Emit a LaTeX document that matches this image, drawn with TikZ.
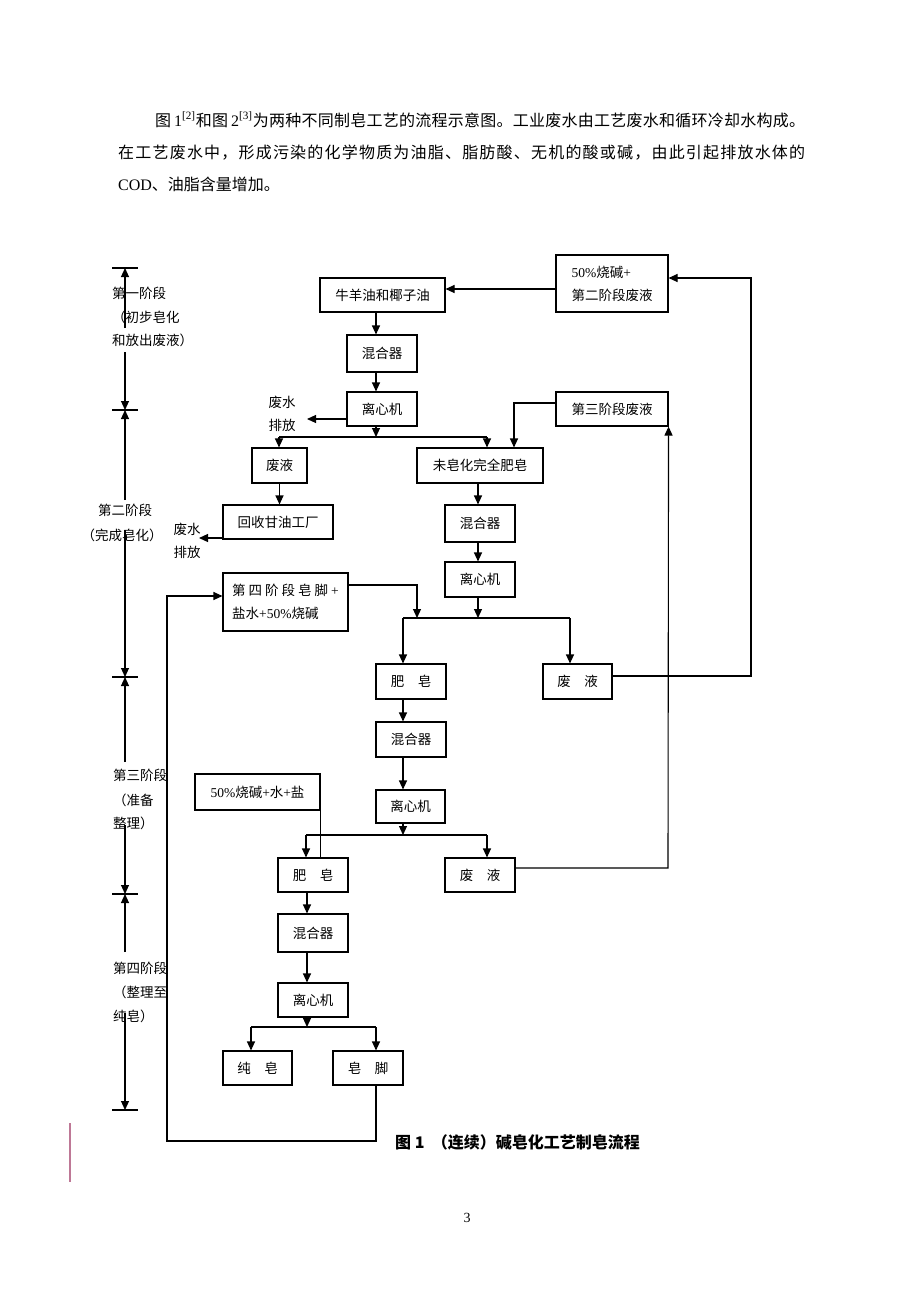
\documentclass[tikz,border=0pt]{standalone}
\usepackage{fontspec}
\setmainfont{Noto Sans CJK SC}
\newfontfamily\cjk{Noto Sans CJK SC}
\newfontfamily\tnr{Liberation Serif}
\usetikzlibrary{arrows.meta,calc}
\newcommand\cjkf{\cjk\fontsize{13.5}{23}\selectfont}
\newcommand\bodyf{\cjk\fontsize{16}{20}\selectfont}
\def\spacedtxt#1{\spacedfirst#1\relax}
\def\spacedfirst#1{#1\spacedrest}
\def\spacedrest#1{\ifx#1\relax\else\hfill#1\expandafter\spacedrest\fi}
\def\refa{{\tnr\,1\textsuperscript{[2]}}}
\def\refb{{\tnr\,2\textsuperscript{[3]}}}
\definecolor{margin}{RGB}{190,120,150}
\begin{document}
\begin{tikzpicture}[x=1pt,y=-1pt,
  box/.style={draw, line width=1.1pt, inner sep=0pt, font=\cjkf},
  arr/.style={line width=1.1pt, -{Triangle[length=9pt,width=8pt]}},
  ln/.style={line width=1.1pt},
  lbl/.style={inner sep=0pt, font=\cjkf, anchor=base west},
  txt/.style={inner sep=0pt, font=\cjkf, align=center},
]
\useasboundingbox (0,0) rectangle (920,1302);

% paragraph
\node[inner sep=0pt, anchor=base west, font=\bodyf] (p1) at (155,126)
  {\hbox to 650pt{\spacedtxt{图\refa 和图\refb 为两种不同制皂工艺的流程示意图。工业废水由工艺废水和循环冷却水构成。}}};
\node[inner sep=0pt, anchor=base west, font=\bodyf] (p2) at (118,158)
  {\hbox to 687pt{\spacedtxt{在工艺废水中，形成污染的化学物质为油脂、脂肪酸、无机的酸或碱，由此引起排放水体的}}};
\node[inner sep=0pt, anchor=base west, font=\bodyf] (p3) at (118,190)
  {{\tnr COD}、油脂含量增加。};

% boxes
\node[box, minimum width=125pt, minimum height=34pt] (oil) at (382.5,295) {牛羊油和椰子油};
\node[box, minimum width=70pt, minimum height=37pt] (mix1) at (382,353.5) {混合器};
\node[box, minimum width=70pt, minimum height=34pt] (cen1) at (382,409) {离心机};
\node[box, minimum width=112pt, minimum height=57pt, align=left] (naoh1) at (612,283.5) {{\tnr 50\%}烧碱{\tnr +}\\第二阶段废液};
\node[box, minimum width=112pt, minimum height=34pt] (w3) at (612,409) {第三阶段废液};
\node[box, minimum width=55pt, minimum height=35pt] (fy2) at (279.5,465.5) {废液};
\node[box, minimum width=126pt, minimum height=35pt] (wz) at (480,465.5) {未皂化完全肥皂};
\node[box, minimum width=110pt, minimum height=34pt] (gly) at (278,522) {回收甘油工厂};
\node[box, minimum width=70pt, minimum height=37pt] (mix2) at (480,523.5) {混合器};
\node[box, minimum width=70pt, minimum height=35pt] (cen2) at (480,579.5) {离心机};
\node[box, minimum width=125pt, minimum height=58pt, align=left] (s4) at (285.5,602)
  {第\hspace{3pt}四\hspace{3pt}阶\hspace{3pt}段\hspace{3pt}皂\hspace{3pt}脚\hspace{3pt}{\tnr +}\\盐水{\tnr +50\%}烧碱};
\node[box, minimum width=70pt, minimum height=35pt] (soap3) at (411,681.5) {肥　皂};
\node[box, minimum width=69pt, minimum height=35pt] (fy3) at (577.5,681.5) {废　液};
\node[box, minimum width=70pt, minimum height=35pt] (mix3) at (411,739.5) {混合器};
\node[box, minimum width=69pt, minimum height=33pt] (cen3) at (410.5,806.5) {离心机};
\node[box, minimum width=125pt, minimum height=36pt] (naoh2) at (257.5,792) {{\tnr 50\%}烧碱{\tnr +}水{\tnr +}盐};
\node[box, minimum width=70pt, minimum height=34pt] (soap4) at (313,875) {肥　皂};
\node[box, minimum width=70pt, minimum height=34pt] (fy4) at (480,875) {废　液};
\node[box, minimum width=70pt, minimum height=38pt] (mix4) at (313,933) {混合器};
\node[box, minimum width=70pt, minimum height=34pt] (cen4) at (313,1000) {离心机};
\node[box, minimum width=69pt, minimum height=34pt] (pure) at (257.5,1068) {纯　皂};
\node[box, minimum width=70pt, minimum height=34pt] (foot) at (368,1068) {皂　脚};

% waste-water labels
\node[txt] (ww1) at (282,414) {废水\\排放};
\node[txt] (ww2) at (187,541) {废水\\排放};

% coordinates
\coordinate (c1) at (376,0);
\coordinate (c2) at (478,0);
\coordinate (c3) at (403,0);
\coordinate (c4) at (307,0);
\coordinate (sp1) at (376,437);
\coordinate (sp1l) at (279,437);
\coordinate (sp1r) at (487,437);
\coordinate (sp2) at (478,618);
\coordinate (sp2l) at (403,618);
\coordinate (sp2r) at (570,618);
\coordinate (sp3) at (403,835);
\coordinate (sp3l) at (306,835);
\coordinate (sp3r) at (487,835);
\coordinate (sp4) at (307,1027);
\coordinate (sp4l) at (251,1027);
\coordinate (sp4r) at (376,1027);
\coordinate (ww1t) at (307,419);
\coordinate (ww2t) at (199,538);
\coordinate (w3a) at (514,403);
\coordinate (y289) at (0,289);
\coordinate (r1) at (751,676);
\coordinate (r1t) at (751,278);
\coordinate (r2) at (668,868);
\coordinate (s4a) at (417,585);
\coordinate (b1) at (376,1141);
\coordinate (b2) at (167,1141);
\coordinate (b3) at (167,596);

% stage 1 column
\draw[arr] (oil.south -| c1) -- (mix1.north -| c1);
\draw[arr] (mix1.south -| c1) -- (cen1.north -| c1);
\draw[arr] (cen1.south -| c1) -- (sp1);
\draw[ln] (sp1l) -- (sp1r);
\draw[arr] (sp1l) -- (sp1l |- fy2.north);
\draw[arr] (sp1r) -- (sp1r |- wz.north);
\draw[arr] (ww1t -| cen1.west) -- (ww1t);
\draw[arr] (fy2.south) -- (fy2.south |- gly.north);
\draw[arr] (ww2t -| gly.west) -- (ww2t);
\draw[arr] (naoh1.west |- y289) -- (oil.east |- y289);
\draw[arr] (w3a -| w3.west) -- (w3a) -- (w3a |- wz.north);

% stage 2 column
\draw[arr] (wz.south -| c2) -- (mix2.north -| c2);
\draw[arr] (mix2.south -| c2) -- (cen2.north -| c2);
\draw[arr] (cen2.south -| c2) -- (sp2);
\draw[ln] (sp2l) -- (sp2r);
\draw[arr] (s4a -| s4.east) -- (s4a) -- (s4a |- sp2);
\draw[arr] (sp2l) -- (sp2l |- soap3.north);
\draw[arr] (sp2r) -- (sp2r |- fy3.north);
\draw[arr] (r1 -| fy3.east) -- (r1) -- (r1t) -- (naoh1.east |- r1t);

% stage 3 column
\draw[arr] (soap3.south -| c3) -- (mix3.north -| c3);
\draw[arr] (mix3.south -| c3) -- (cen3.north -| c3);
\draw[arr] (cen3.south -| c3) -- (sp3);
\draw[ln] (sp3l) -- (sp3r);
\draw[arr] (sp3l) -- (sp3l |- soap4.north);
\draw[arr] (sp3r) -- (sp3r |- fy4.north);
\draw[ln] (naoh2.south east) -- (naoh2.south east |- soap4.north);
\draw[arr] (r2 -| fy4.east) -- (r2) -- (w3.south east);

% stage 4 column
\draw[arr] (soap4.south -| c4) -- (mix4.north -| c4);
\draw[arr] (mix4.south -| c4) -- (cen4.north -| c4);
\draw[arr] (cen4.south -| c4) -- (sp4);
\draw[ln] (sp4l) -- (sp4r);
\draw[arr] (sp4l) -- (sp4l |- pure.north);
\draw[arr] (sp4r) -- (sp4r |- foot.north);
\draw[arr] (foot.south -| b1) -- (b1) -- (b2) -- (b3) -- (s4.west |- b3);

% left stage scale
\foreach \y in {268,410,677,894,1110} \draw[ln] (112,\y) -- (138,\y);
\draw[arr] (125,328) -- (125,268);
\draw[arr] (125,352) -- (125,410);
\draw[arr] (125,500) -- (125,410);
\draw[arr] (125,530) -- (125,677);
\draw[arr] (125,762) -- (125,677);
\draw[arr] (125,825) -- (125,894);
\draw[arr] (125,952) -- (125,894);
\draw[arr] (125,1013) -- (125,1110);

\node[lbl] (l11) at (112,298) {第一阶段};
\node[lbl] (l12) at (112,322) {（初步皂化};
\node[lbl] (l13) at (112,345) {和放出废液）};
\node[lbl, anchor=base] (l21) at (125,515) {第二阶段};
\node[lbl, anchor=base] (l22) at (122,540) {（完成皂化）};
\node[lbl] (l31) at (113,780) {第三阶段};
\node[lbl] (l32) at (113,805) {（准备};
\node[lbl] (l33) at (113,828) {整理）};
\node[lbl] (l41) at (113,973) {第四阶段};
\node[lbl] (l42) at (113,997) {（整理至};
\node[lbl] (l43) at (113,1021) {纯皂）};

% caption, page number, margin mark
\node[inner sep=0pt, anchor=base west, font=\cjk\bfseries\fontsize{16}{18}\selectfont] (cap) at (395,1148)
  {图 1 \ （连续）碱皂化工艺制皂流程};
\node[inner sep=0pt, anchor=base, font=\tnr\fontsize{14}{16}\selectfont] (pg) at (467,1222) {3};
\draw[margin, line width=1.2pt] (70,1123) -- (70,1182);
\end{tikzpicture}
\end{document}
